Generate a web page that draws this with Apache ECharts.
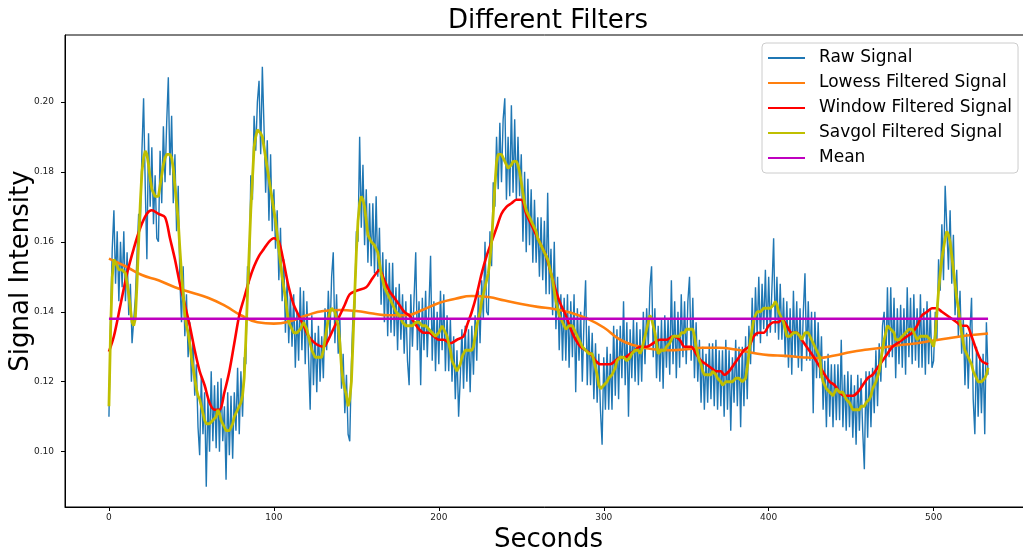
<!DOCTYPE html>
<html>
<head>
<meta charset="utf-8">
<title>Different Filters</title>
<script src="https://cdn.jsdelivr.net/npm/echarts@6/dist/echarts.min.js"></script>
<style>
  html, body { margin: 0; padding: 0; background: #fff; }
  #chart { width: 1023px; height: 548px; }
</style>
</head>
<body>
<div id="chart"></div>
<script>
// raw signal, one reading per second (index = seconds)
const rawSignal = [
  .110,.138,.158,.169,.148,.163,.143,.160,.147,.163,
  .143,.157,.139,.148,.131,.131,.144,.144,.168,.164,
  .186,.201,.176,.155,.191,.170,.187,.165,.179,.161,
  .160,.186,.171,.193,.177,.194,.207,.179,.196,.171,
  .185,.163,.176,.149,.137,.153,.133,.145,.127,.137,
  .120,.132,.116,.125,.107,.099,.122,.105,.117,.090,
  .115,.100,.123,.103,.119,.101,.120,.100,.121,.103,
  .113,.092,.117,.099,.116,.098,.117,.106,.124,.105,
  .123,.110,.127,.125,.153,.148,.179,.172,.196,.186,
  .200,.206,.185,.210,.193,.174,.189,.166,.185,.163,
  .175,.158,.169,.149,.164,.143,.155,.134,.149,.131,
  .145,.130,.145,.124,.140,.126,.147,.129,.146,.125,
  .143,.127,.112,.139,.119,.134,.117,.136,.120,.133,
  .121,.141,.129,.146,.133,.150,.157,.131,.145,.128,
  .138,.118,.128,.111,.122,.105,.103,.125,.140,.141,
  .163,.160,.190,.164,.182,.159,.175,.154,.171,.153,
  .171,.151,.173,.150,.164,.142,.157,.137,.155,.133,
  .154,.134,.154,.133,.147,.129,.148,.132,.145,.128,
  .143,.126,.119,.145,.130,.144,.157,.129,.143,.119,
  .144,.129,.146,.127,.141,.156,.126,.143,.123,.140,
  .125,.146,.129,.145,.123,.139,.123,.138,.120,.133,
  .115,.129,.110,.121,.135,.118,.136,.120,.135,.117,
  .136,.122,.139,.126,.146,.131,.149,.138,.160,.140,
  .139,.163,.153,.177,.170,.190,.175,.194,.177,.195,
  .201,.172,.190,.173,.199,.174,.195,.172,.190,.173,
  .185,.160,.180,.157,.178,.159,.175,.154,.172,.154,
  .167,.150,.167,.149,.166,.145,.174,.145,.158,.139,
  .160,.135,.150,.129,.145,.126,.144,.126,.145,.124,
  .143,.127,.145,.117,.141,.126,.140,.120,.137,.149,
  .119,.136,.119,.134,.115,.131,.114,.128,.112,.102,
  .127,.112,.130,.112,.128,.112,.136,.116,.135,.115,
  .136,.121,.143,.119,.137,.110,.135,.121,.138,.120,
  .137,.119,.135,.120,.140,.125,.141,.130,.147,.153,
  .127,.141,.121,.136,.120,.138,.118,.139,.124,.138,
  .122,.149,.125,.143,.121,.140,.124,.145,.127,.143,
  .125,.143,.150,.126,.144,.121,.137,.120,.132,.114,
  .130,.112,.128,.114,.131,.115,.131,.113,.132,.112,
  .129,.113,.129,.110,.132,.112,.129,.106,.127,.114,
  .132,.113,.130,.107,.130,.113,.133,.115,.136,.125,
  .144,.128,.147,.133,.150,.131,.148,.135,.152,.133,
  .150,.134,.147,.161,.134,.150,.132,.148,.132,.144,
  .127,.143,.124,.141,.122,.146,.127,.143,.124,.141,
  .123,.140,.151,.126,.143,.126,.140,.111,.140,.121,
  .137,.121,.133,.112,.126,.107,.128,.110,.125,.107,
  .125,.109,.125,.109,.132,.107,.122,.106,.123,.107,
  .122,.104,.119,.102,.122,.106,.121,.106,.095,.123,
  .104,.123,.107,.124,.111,.129,.113,.131,.120,.136,
  .140,.124,.147,.127,.147,.127,.144,.121,.141,.125,
  .142,.124,.141,.122,.147,.127,.144,.125,.145,.126,
  .141,.124,.145,.124,.141,.122,.143,.125,.141,.124,
  .126,.140,.132,.155,.146,.165,.149,.176,.176,.152,
  .169,.148,.162,.139,.152,.133,.146,.128,.138,.119,
  .134,.118,.134,.144,.115,.105,.130,.110,.127,.111,
  .128,.105,.137,.122
];

// savgol filtered, one value per second
const savgolSignal = [
  .113,.135,.150,.155,.154,.153,.152,.152,.152,.152,
  .151,.148,.145,.141,.137,.136,.138,.148,.160,.171,
  .180,.184,.186,.185,.182,.178,.175,.174,.173,.173,
  .173,.176,.179,.182,.184,.185,.185,.185,.184,.181,
  .176,.171,.166,.158,.151,.145,.139,.136,.134,.131,
  .127,.124,.121,.118,.116,.115,.113,.111,.109,.108,
  .108,.108,.108,.109,.109,.110,.112,.111,.109,.108,
  .107,.106,.106,.106,.107,.108,.110,.111,.112,.113,
  .114,.116,.121,.132,.145,.157,.169,.178,.187,.190,
  .192,.192,.191,.190,.187,.184,.181,.178,.175,.172,
  .169,.166,.162,.158,.154,.150,.147,.144,.140,.137,
  .136,.135,.134,.134,.134,.134,.135,.136,.137,.136,
  .135,.133,.131,.129,.128,.127,.127,.127,.127,.127,
  .129,.132,.135,.138,.140,.141,.141,.140,.138,.136,
  .131,.124,.120,.118,.116,.113,.115,.120,.132,.145,
  .157,.166,.171,.173,.172,.170,.166,.162,.161,.160,
  .160,.159,.159,.157,.154,.151,.149,.147,.146,.145,
  .144,.143,.142,.141,.140,.140,.139,.138,.137,.137,
  .136,.136,.136,.136,.136,.136,.137,.137,.137,.137,
  .136,.136,.136,.136,.135,.135,.134,.134,.133,.133,
  .134,.135,.136,.135,.134,.133,.131,.129,.126,.125,
  .124,.123,.124,.125,.127,.128,.129,.129,.129,.129,
  .129,.130,.133,.136,.138,.140,.143,.145,.147,.149,
  .151,.155,.160,.168,.176,.183,.185,.185,.185,.184,
  .183,.182,.181,.181,.182,.183,.183,.183,.182,.180,
  .177,.174,.171,.169,.168,.167,.166,.165,.165,.163,
  .161,.160,.159,.158,.157,.156,.155,.153,.151,.149,
  .146,.143,.141,.139,.138,.137,.136,.135,.135,.136,
  .136,.136,.135,.134,.133,.132,.131,.130,.130,.129,
  .129,.128,.128,.128,.126,.124,.122,.119,.118,.118,
  .119,.119,.120,.121,.121,.122,.123,.124,.126,.126,
  .127,.127,.127,.127,.126,.126,.127,.128,.128,.129,
  .129,.129,.128,.129,.131,.133,.135,.137,.139,.138,
  .136,.134,.131,.128,.128,.129,.129,.129,.130,.130,
  .131,.132,.133,.133,.133,.133,.133,.134,.134,.134,
  .135,.135,.135,.135,.135,.133,.130,.128,.126,.125,
  .123,.122,.122,.122,.122,.122,.123,.123,.122,.121,
  .121,.120,.119,.119,.120,.120,.120,.120,.120,.120,
  .121,.121,.121,.121,.120,.120,.121,.124,.128,.132,
  .135,.138,.139,.140,.140,.140,.140,.141,.141,.141,
  .141,.141,.141,.142,.143,.142,.140,.139,.138,.137,
  .135,.133,.133,.133,.133,.134,.134,.134,.134,.133,
  .132,.133,.134,.134,.134,.133,.132,.131,.130,.129,
  .128,.127,.122,.120,.119,.118,.118,.117,.117,.116,
  .117,.118,.118,.117,.117,.117,.116,.115,.115,.114,
  .113,.112,.112,.112,.112,.112,.113,.113,.113,.114,
  .114,.115,.116,.118,.119,.120,.120,.123,.126,.129,
  .132,.134,.136,.136,.135,.135,.134,.132,.132,.132,
  .132,.133,.133,.134,.134,.135,.135,.135,.134,.133,
  .132,.132,.133,.133,.133,.133,.133,.133,.132,.131,
  .130,.133,.140,.146,.151,.155,.158,.161,.163,.162,
  .160,.156,.152,.148,.144,.141,.137,.134,.131,.129,
  .128,.127,.126,.125,.123,.122,.121,.120,.120,.120,
  .120,.121,.122,.124
];

// lowess filtered
const lowessSec = [0,10,20,30,40,50,60,70,80,90,100,110,120,130,140,150,160,170,180,190,200,210,220,230,240,250,260,270,280,290,300,310,320,330,340,350,360,370,380,390,400,410,420,430,440,450,460,470,480,490,500,510,520,533];
const lowessVal = [.1552,.153,.1505,.149,.147,.1455,.144,.1418,.139,.137,.1366,.1373,.139,.1402,.1405,.1402,.1395,.139,.139,.1405,.1425,.1437,.1445,.1442,.1432,.1422,.1414,.1408,.1397,.138,.1355,.132,.1302,.1293,.129,.1293,.1297,.1297,.1292,.1283,.1276,.1274,.127,.1268,.1275,.1285,.1292,.1298,.1305,.131,.1318,.1325,.1332,.1338];

// window filtered
const windowSec = [0,3,7,11,15,19,23,26,30,34,37,40,43,46,49,52,55,58,61,64,67,70,73,76,79,82,85,88,91,94,97,100,103,106,109,112,115,118,121,125,130,133,136,140,143,146,150,156,159,162,164,167,170,173,176,179,182,185,188,191,194,197,200,203,207,211,215,217,220,223,226,229,232,235,238,241,244,247,250,253,256,259,262,265,268,271,274,277,280,283,286,289,292,295,298,301,304,307,310,313,316,319,322,326,330,334,338,342,346,349,353,356,359,362,365,368,371,373,376,379,382,385,388,391,394,397,400,403,406,408,411,414,417,420,423,426,430,434,437,440,443,446,449,451,454,457,460,463,466,469,472,475,478,481,484,487,490,493,496,499,502,505,508,511,514,517,520,523,526,529,533];
const windowVal = [.1286,.133,.142,.151,.158,.164,.168,.169,.168,.167,.161,.155,.148,.142,.136,.129,.123,.119,.114,.112,.112,.117,.123,.131,.139,.144,.149,.153,.156,.158,.160,.161,.160,.154,.147,.142,.139,.136,.133,.131,.130,.132,.135,.139,.142,.145,.146,.147,.149,.151,.152,.149,.146,.144,.142,.140,.139,.137,.135,.134,.134,.133,.132,.132,.131,.132,.133,.136,.140,.145,.151,.156,.160,.164,.168,.170,.171,.172,.172,.168,.165,.162,.159,.156,.151,.146,.142,.139,.135,.132,.130,.129,.128,.126,.125,.125,.125,.126,.127,.127,.128,.129,.130,.130,.131,.132,.132,.133,.132,.130,.130,.128,.126,.125,.124,.123,.123,.122,.123,.125,.127,.129,.130,.133,.134,.134,.136,.137,.137,.138,.136,.134,.134,.132,.130,.128,.125,.122,.120,.119,.117,.116,.116,.116,.117,.119,.121,.122,.124,.126,.128,.130,.131,.132,.133,.134,.136,.139,.140,.141,.141,.140,.139,.138,.137,.136,.136,.133,.129,.126,.125];

const meanValue = 0.138;
const lastSecond = 533;

const xTicks = [0, 100, 200, 300, 400, 500];
const yTicks = [0.10, 0.12, 0.14, 0.16, 0.18, 0.20];

const font = 'DejaVu Sans';
const chart = echarts.init(document.getElementById('chart'));

const pairs = (xs, ys) => xs.map((x, i) => [x, ys[i]]);

const option = {
  animation: false,
  graphic: [{
    type: 'text',
    x: 548,
    y: 21,
    style: {
      text: 'Different Filters',
      font: '26px "DejaVu Sans"',
      fill: '#000',
      textAlign: 'center',
      textVerticalAlign: 'middle'
    }
  }],
  grid: {
    left: 65,
    top: 35,
    width: 967,
    height: 472,
    containLabel: false,
    outerBoundsMode: 'none',
    show: true,
    borderColor: '#000',
    borderWidth: 1
  },
  legend: {
    orient: 'vertical',
    left: 762,
    top: 43,
    padding: [5, 6, 5, 6],
    itemGap: 5,
    itemWidth: 37,
    itemHeight: 2,
    icon: 'rect',
    backgroundColor: 'rgba(255,255,255,0.8)',
    borderColor: '#ccc',
    borderWidth: 1,
    borderRadius: 4,
    textStyle: {
      fontFamily: font,
      fontSize: 17,
      color: '#000',
      lineHeight: 20,
      padding: [0, 0, 0, 9]
    },
    data: ['Raw Signal', 'Lowess Filtered Signal', 'Window Filtered Signal', 'Savgol Filtered Signal', 'Mean']
  },
  xAxis: {
    type: 'value',
    min: -26.65,
    max: 559.65,
    name: 'Seconds',
    nameLocation: 'middle',
    nameGap: 15,
    nameTextStyle: { fontFamily: font, fontSize: 26, color: '#000' },
    splitLine: { show: false },
    axisLine: { show: true, onZero: false, lineStyle: { color: '#000', width: 1 } },
    axisTick: { show: true, length: 4, customValues: xTicks, lineStyle: { color: '#000' } },
    axisLabel: { customValues: xTicks, fontFamily: font, fontSize: 9, color: '#222', margin: 6 }
  },
  yAxis: {
    type: 'value',
    min: 0.0842,
    max: 0.2191,
    name: 'Signal Intensity',
    nameLocation: 'middle',
    nameRotate: 90,
    nameGap: 31,
    nameMoveOverlap: false,
    nameTextStyle: { fontFamily: font, fontSize: 26, color: '#000' },
    splitLine: { show: false },
    axisLine: { show: true, onZero: false, lineStyle: { color: '#000', width: 1 } },
    axisTick: { show: true, length: 4, customValues: yTicks, lineStyle: { color: '#000' } },
    axisLabel: {
      customValues: yTicks,
      fontFamily: font,
      fontSize: 9,
      color: '#222',
      margin: 11,
      formatter: v => v.toFixed(2)
    }
  },
  series: [
    {
      name: 'Raw Signal',
      type: 'line',
      symbol: 'none',
      color: '#1f77b4',
      lineStyle: { width: 1.4, color: '#1f77b4' },
      data: rawSignal.map((v, i) => [i, v])
    },
    {
      name: 'Lowess Filtered Signal',
      type: 'line',
      symbol: 'none',
      smooth: true,
      color: '#ff7f0e',
      lineStyle: { width: 2.6, color: '#ff7f0e' },
      data: pairs(lowessSec, lowessVal)
    },
    {
      name: 'Window Filtered Signal',
      type: 'line',
      symbol: 'none',
      smooth: 0.3,
      color: '#ff0000',
      lineStyle: { width: 2.6, color: '#ff0000' },
      data: pairs(windowSec, windowVal)
    },
    {
      name: 'Savgol Filtered Signal',
      type: 'line',
      symbol: 'none',
      color: '#bfbf00',
      lineStyle: { width: 2.8, color: '#bfbf00' },
      data: savgolSignal.map((v, i) => [i, v])
    },
    {
      name: 'Mean',
      type: 'line',
      symbol: 'none',
      color: '#bf00bf',
      lineStyle: { width: 2.6, color: '#bf00bf' },
      data: [[0, meanValue], [lastSecond, meanValue]]
    }
  ]
};

chart.setOption(option);
</script>
</body>
</html>
